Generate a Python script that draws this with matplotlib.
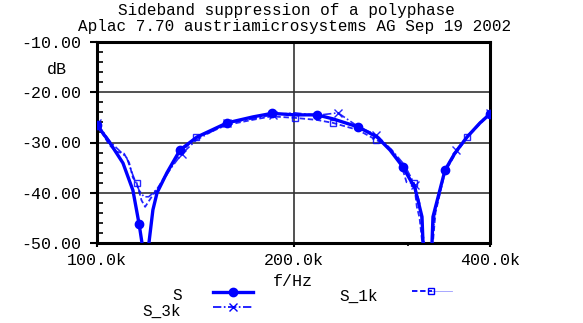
import numpy as np
import matplotlib
matplotlib.use("Agg")
import matplotlib.pyplot as plt
from matplotlib.ticker import FixedLocator, MultipleLocator, NullFormatter

# frequencies in kHz, levels in dB
f_s = [100, 104.7, 109.6, 113.5, 116.0, 117.2, 118.6, 120.1, 121.8, 123.6, 128.0,
       134.0, 142.3, 158.2, 173.4, 185.4, 201.1, 217.3, 229.9, 251.1, 268.5, 281.1,
       294.3, 307.0, 314.7, 315.8, 320.5, 326.0, 327.1, 341.3, 353.5, 368.9, 386.2, 400]
db_s = [-26.5, -30.1, -34.1, -39.5, -46.2, -50, -58, -50, -43.4, -40, -36,
        -31.5, -28.9, -26.1, -24.9, -24.2, -24.5, -24.5, -25.3, -26.9, -28.9, -31.5,
        -34.9, -39.1, -44.8, -50, -58, -50, -44.8, -35.5, -32.1, -28.9, -26.1, -24.3]
mark_s = [0, 4, 11, 13, 15, 17, 19, 22, 29, 33]

f_1k = [100, 104.5, 107, 110, 112, 113.5, 115, 117, 118.5, 121, 124, 128, 134, 142,
        150, 158, 173, 185, 201, 217, 229.9, 251, 268, 281, 292, 298, 306, 309, 312,
        315, 318, 327, 330, 341, 353, 369, 386, 400]
db_1k = [-26.5, -30.5, -31.8, -32.2, -34, -37, -38, -41.5, -42.8, -41, -39, -36, -32, -29,
         -27.8, -26.5, -25.5, -24.8, -25.1, -25.5, -26.1, -27.5, -29.5, -31.1, -34.1, -37.9,
         -38.1, -42.8, -45, -50, -56, -50, -44, -36, -32.5, -29, -26.3, -24.3]
mark_1k = [0, 6, 13, 18, 20, 22, 26, 35, 37]

f_3k = [100, 105, 108, 111, 113.5, 116, 118, 120, 122, 125, 130, 135, 142, 150, 158,
        173, 186, 201, 217, 234, 251, 268, 283, 296, 307, 312, 317, 320, 326, 330, 341,
        355, 369, 386, 400]
db_3k = [-26.2, -30, -31.5, -33, -36.5, -39.5, -40.8, -40.8, -40, -38.5, -35, -32.2,
         -29.5, -27.8, -26.1, -25.3, -24.5, -24.1, -24.6, -24.1, -26.8, -28.5, -31.5,
         -34.5, -38.5, -42, -50, -55, -50, -43, -35.5, -31.5, -28.8, -26, -24.2]
mark_3k = [0, 11, 14, 16, 19, 21, 24, 31, 34]

xticks = [100, 200, 400]
xticklabels = ["100.0k", "200.0k", "400.0k"]
yticks = [-10, -20, -30, -40, -50]
yticklabels = ["-10.00", "-20.00", "-30.00", "-40.00", "-50.00"]

blue = "#0000ff"
mono = "Liberation Mono"
fs = 12

fig = plt.figure(figsize=(5.83, 3.23), dpi=100)
ax = fig.add_axes([97/583, 1-243/323, 393/583, 201/323])

ax.plot(f_s, db_s, color=blue, lw=2.4, marker="o", ms=6, markevery=mark_s,
        clip_on=True, zorder=4)
ax.plot(f_1k, db_1k, color=blue, lw=1.3, ls=(0, (3, 1.5)), marker="s", ms=4.5,
        mfc="none", mew=1.0, markevery=mark_1k, alpha=0.85, zorder=3)
ax.plot(f_3k, db_3k, color=blue, lw=1.2, ls=(0, (5, 1.5, 1, 1.5)), marker="x", ms=6,
        mew=1.0, markevery=mark_3k, alpha=0.85, zorder=3)

ax.set_xscale("log")
ax.set_xlim(100, 400)
ax.set_ylim(-50, -10)
ax.xaxis.set_major_locator(FixedLocator(xticks))
ax.xaxis.set_minor_locator(FixedLocator([300]))
ax.xaxis.set_minor_formatter(NullFormatter())
ax.set_xticklabels(xticklabels, family=mono, fontsize=fs)
ax.yaxis.set_major_locator(FixedLocator(yticks))
ax.yaxis.set_minor_locator(MultipleLocator(2))
ax.set_yticklabels(yticklabels, family=mono, fontsize=fs)

ax.grid(which="major", color="#333333", lw=1.2)
ax.tick_params(axis="y", which="major", direction="out", length=5, width=1.5, pad=6)
ax.tick_params(axis="y", which="minor", direction="in", length=4, width=1.2)
ax.tick_params(axis="x", which="major", direction="out", length=3, width=1.5, pad=4)
ax.tick_params(axis="x", which="minor", direction="out", length=2, width=1.2)
for sp in ax.spines.values():
    sp.set_linewidth(2.2)

fig.text(286/583, 1-10/323, "Sideband suppression of a polyphase", family=mono,
         fontsize=11.5, ha="center", va="center")
fig.text(295/583, 1-27/323, "Aplac 7.70 austriamicrosystems AG Sep 19 2002",
         family=mono, fontsize=11.5, ha="center", va="center")
fig.text(57/583, 1-69/323, "dB", family=mono, fontsize=fs, ha="center", va="center")
fig.text(293/583, 1-281/323, "f/Hz", family=mono, fontsize=fs, ha="center", va="center")

# legend
fig.text(177/583, 1-295/323, "S", family=mono, fontsize=11.5, ha="center", va="center")
fig.text(359/583, 1-296/323, "S_1k", family=mono, fontsize=11.5, ha="center", va="center")
fig.text(162/583, 1-311/323, "S_3k", family=mono, fontsize=11.5, ha="center", va="center")
lg = fig.add_axes([0, 0, 1, 1], facecolor="none")
lg.set_xlim(0, 583)
lg.set_ylim(323, 0)
lg.axis("off")
lg.plot([213, 253], [292, 292], color=blue, lw=2.4)
lg.plot([233], [292], color=blue, marker="o", ms=6)
lg.plot([412, 432], [291, 291], color=blue, lw=1.3, ls=(0, (3, 1.5)))
lg.plot([432, 452], [291, 291], color=blue, lw=0.6, alpha=0.4)
lg.plot([431], [291], color=blue, marker="s", ms=4.5, mfc="none", mew=1.0)
lg.plot([213, 253], [307, 307], color=blue, lw=1.2, ls=(0, (5, 1.5, 1, 1.5)))
lg.plot([233], [307], color=blue, marker="x", ms=6, mew=1.0)

fig.savefig("out.png", dpi=100)
